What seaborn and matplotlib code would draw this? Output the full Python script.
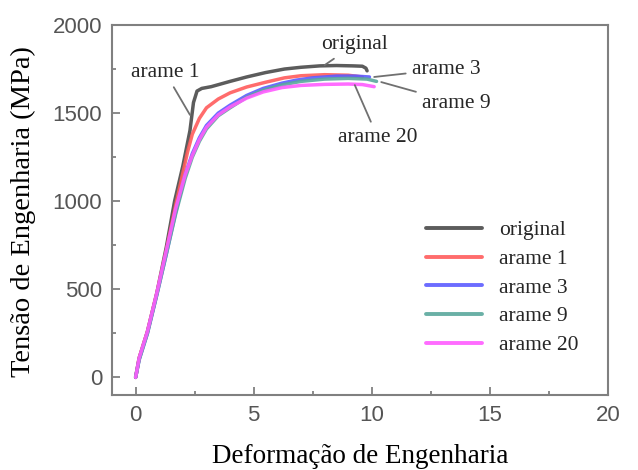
import pandas as pd
import numpy as np
import matplotlib.pyplot as plt
import seaborn as sns

# curvas tensao x deformacao
orig_x = [0, 0.15, 0.5, 0.9, 1.3, 1.65, 2.0, 2.3, 2.45, 2.6, 2.8, 3.2, 4.0, 4.7, 5.5, 6.3, 7.0, 7.8, 8.5, 9.2, 9.6, 9.75, 9.8]
orig_y = [0, 110, 260, 480, 740, 1000, 1200, 1400, 1560, 1625, 1640, 1650, 1680, 1705, 1730, 1750, 1760, 1768, 1770, 1768, 1766, 1755, 1740]

a1_x = [0, 0.15, 0.5, 0.9, 1.3, 1.7, 2.0, 2.2, 2.4, 2.7, 3.0, 3.5, 4.0, 4.7, 5.5, 6.3, 7.0, 8.0, 9.0, 9.6]
a1_y = [0, 110, 260, 480, 720, 980, 1160, 1280, 1380, 1470, 1530, 1580, 1615, 1648, 1675, 1700, 1712, 1718, 1715, 1705]

a3_x = [0, 0.15, 0.5, 0.9, 1.3, 1.7, 2.1, 2.4, 2.7, 3.0, 3.5, 4.0, 4.7, 5.4, 6.2, 6.8, 7.5, 8.5, 9.3, 9.9]
a3_y = [0, 100, 250, 470, 700, 940, 1150, 1270, 1360, 1430, 1500, 1545, 1600, 1640, 1670, 1687, 1700, 1710, 1710, 1705]

a9_x = [0, 0.15, 0.5, 0.9, 1.3, 1.7, 2.1, 2.4, 2.7, 3.0, 3.5, 4.0, 4.7, 5.4, 6.2, 7.0, 8.0, 9.0, 9.8, 10.2]
a9_y = [0, 100, 250, 470, 700, 930, 1130, 1250, 1340, 1410, 1485, 1530, 1590, 1630, 1660, 1680, 1693, 1697, 1693, 1680]

a20_x = [0, 0.15, 0.5, 0.9, 1.3, 1.7, 2.1, 2.4, 2.7, 3.0, 3.5, 4.0, 4.7, 5.4, 6.2, 7.0, 8.0, 9.0, 9.6, 10.1]
a20_y = [0, 110, 260, 480, 720, 960, 1150, 1260, 1350, 1420, 1490, 1535, 1585, 1620, 1645, 1657, 1663, 1665, 1662, 1650]

labels = ['original', 'arame 1', 'arame 3', 'arame 9', 'arame 20']
colors = ['#4a4a4a', '#ff5c5c', '#5c5cff', '#5aa89c', '#ff5cff']

# posicoes dos rotulos (texto, ponto na curva)
note_text = ['original', 'arame 1', 'arame 3', 'arame 9', 'arame 20']
note_xy = [(8.0, 1772), (2.3, 1490), (10.1, 1705), (10.4, 1676), (9.28, 1659)]
note_pos = [(9.28, 1890), (-0.21, 1733), (11.69, 1750), (12.12, 1557), (8.56, 1364)]
note_ha = ['center', 'left', 'left', 'left', 'left']

frames = []
for lab, xs, ys in zip(labels, [orig_x, a1_x, a3_x, a9_x, a20_x], [orig_y, a1_y, a3_y, a9_y, a20_y]):
    frames.append(pd.DataFrame({'x': xs, 'y': ys, 'amostra': lab}))
df = pd.concat(frames, ignore_index=True)

sns.set_style('ticks')
plt.rcParams['font.family'] = ['Liberation Sans', 'DejaVu Sans']

fig = plt.figure(figsize=(6.38, 4.70), dpi=100)
ax = fig.add_axes([112/638, 1 - 395/470, 496/638, 370/470])

sns.lineplot(data=df, x='x', y='y', hue='amostra', hue_order=labels,
             palette=colors, sort=False, estimator=None,
             linewidth=2.5, alpha=0.9, ax=ax)

ax.set_xlim(-1, 20)
ax.set_ylim(-100, 2000)
ax.set_xticks([0, 5, 10, 15, 20])
ax.set_yticks([0, 500, 1000, 1500, 2000])
ax.set_xticks(np.arange(2.5, 20, 5), minor=True)
ax.set_yticks(np.arange(250, 2000, 500), minor=True)
ax.tick_params(which='both', direction='in', colors='#808080', width=1.3,
               labelcolor='#555555', labelsize=16, pad=7)
ax.tick_params(which='major', length=6)
ax.tick_params(which='minor', length=3)
for s in ax.spines.values():
    s.set_color('#808080')
    s.set_linewidth(1.5)
ax.set_xlabel('')
ax.set_ylabel('')

serif = ['Liberation Serif', 'DejaVu Serif']
fig.text(360/638, 7/470, 'Deformação de Engenharia', ha='center', va='baseline',
         fontsize=19.5, family=serif, color='black')
fig.text(11/638, 1 - 212/470, 'Tensão de Engenharia (MPa)', ha='left', va='center',
         rotation=90, fontsize=20.5, family=serif, color='black')

for t, xy, pos, ha in zip(note_text, note_xy, note_pos, note_ha):
    ax.annotate(t, xy=xy, xytext=pos, ha=ha, va='center', fontsize=15.5, family=serif,
                arrowprops=dict(arrowstyle='-', color='#707070', lw=1.3, shrinkA=2, shrinkB=0))

leg = ax.legend(loc='upper left', bbox_to_anchor=(0.633, 0.472), frameon=False,
                borderpad=0, borderaxespad=0, handlelength=2.6, handletextpad=0.8,
                labelspacing=0.40, prop={'family': serif, 'size': 15.5})
for h in leg.get_lines():
    h.set_linewidth(2.8)

fig.savefig('out.png', dpi=100)
